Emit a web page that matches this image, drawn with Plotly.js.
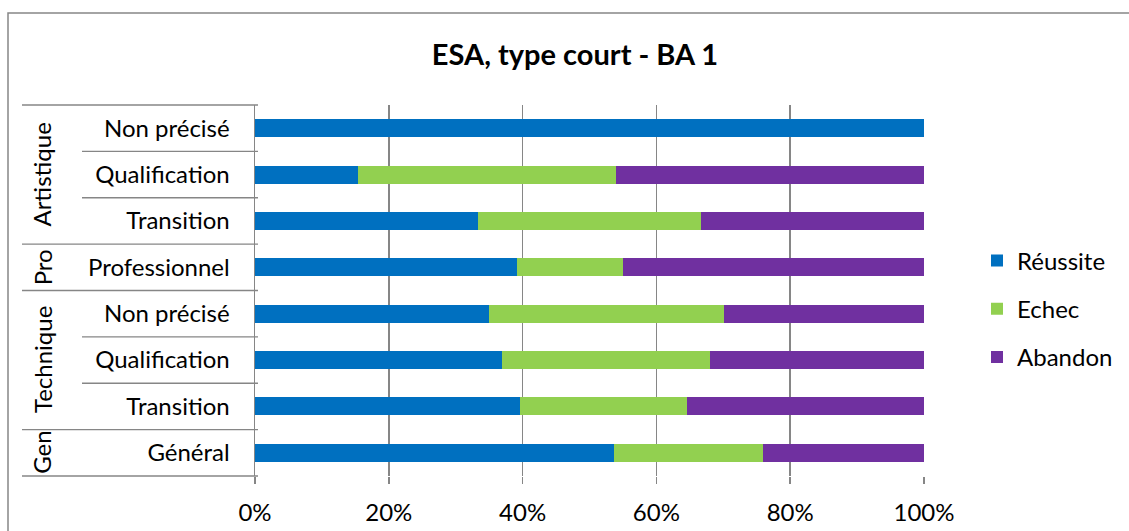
<!DOCTYPE html>
<html>
<head>
<meta charset="utf-8">
<script src="https://cdn.plot.ly/plotly-3.0.1.min.js"></script>
<style>html,body{margin:0;padding:0;background:#fff;}#chart{width:1129px;height:531px;}</style>
</head>
<body>
<div id="chart"></div>
<script>
// Data (bottom to top)
const groups = ['Gen', 'Technique', 'Technique', 'Technique', 'Pro', 'Artistique', 'Artistique', 'Artistique'];
const categories = ['Général', 'Transition', 'Qualification', 'Non précisé', 'Professionnel', 'Transition', 'Qualification', 'Non précisé'];
const reussite = [53.6, 39.6, 36.9, 35.0, 39.1, 33.3, 15.4, 100];
const echec = [22.3, 25.0, 31.1, 35.1, 15.9, 33.4, 38.5, 0];
const abandon = [24.1, 35.4, 32.0, 29.9, 45.0, 33.3, 46.1, 0];
const seriesNames = ['Réussite', 'Echec', 'Abandon'];
const xTicks = [0, 20, 40, 60, 80, 100];

const keys = categories.map((c, i) => groups[i] + ' / ' + c + ' #' + i);
const colors = ['#0070C0', '#92D050', '#7030A0'];
const FONT = 'Lato, "Open Sans", sans-serif';
const GRID = '#868686';

const W = 1129, H = 531;
const M = {l: 255, r: 205, t: 105, b: 55, autoexpand: false};
const PW = W - M.l - M.r, PH = H - M.t - M.b;
const px2x = p => (p - M.l) / PW;
const py2y = p => (H - M.b - p) / PH;

const traces = [reussite, echec, abandon].map((vals, k) => ({
  type: 'bar',
  orientation: 'h',
  name: seriesNames[k],
  y: keys,
  x: vals,
  legendgroup: 'g' + k,
  marker: {color: colors[k], line: {width: 0}},
  hoverinfo: 'name+x'
}));

// separators and group labels
const n = keys.length;
const shapes = [];
const groupLeft = px2x(22), catLeft = px2x(82), lineRight = px2x(258);
for (let i = 0; i <= n; i++) {
  const isGroupBoundary = (i === 0 || i === n || groups[i] !== groups[i - 1]);
  shapes.push({
    type: 'line', xref: 'paper', yref: 'paper',
    x0: isGroupBoundary ? groupLeft : catLeft, x1: lineRight,
    y0: i / n, y1: i / n,
    line: {color: GRID, width: 1.4}
  });
}
// chart area border
shapes.push({
  type: 'rect', xref: 'paper', yref: 'paper',
  x0: px2x(8), x1: px2x(1140), y0: py2y(540), y1: py2y(13),
  line: {color: GRID, width: 1.5}, fillcolor: 'rgba(0,0,0,0)', layer: 'below'
});

const annotations = [];
let start = 0;
for (let i = 1; i <= n; i++) {
  if (i === n || groups[i] !== groups[start]) {
    const mid = (start + i - 1) / 2;
    annotations.push({
      xref: 'paper', yref: 'paper',
      x: px2x(42), y: (mid + 0.5) / n,
      text: groups[start], textangle: -90, showarrow: false,
      xanchor: 'center', yanchor: 'middle',
      font: {family: FONT, size: 24, color: '#000'}
    });
    start = i;
  }
}

const layout = {
  width: W, height: H,
  margin: M,
  paper_bgcolor: '#fff', plot_bgcolor: '#fff',
  barmode: 'stack',
  bargap: 0.61,
  font: {family: FONT, size: 24, color: '#000'},
  title: {
    text: '<b>ESA, type court - BA 1</b>',
    font: {family: FONT, size: 29, color: '#000'},
    xref: 'container', yref: 'container',
    x: 575 / W, y: 1 - 55 / H, xanchor: 'center', yanchor: 'middle'
  },
  xaxis: {
    range: [0, 100], tickvals: xTicks, ticktext: xTicks.map(v => v + '%'),
    showgrid: true, gridcolor: GRID, gridwidth: 1.5,
    zeroline: false, showline: false,
    ticks: 'outside', ticklen: 7, tickcolor: GRID, tickwidth: 1.5,
    tickfont: {family: FONT, size: 24, color: '#000'},
    ticklabelstandoff: 8,
    fixedrange: true
  },
  yaxis: {
    type: 'category', categoryorder: 'array', categoryarray: keys,
    tickmode: 'array', tickvals: keys, ticktext: categories,
    showgrid: false, zeroline: false,
    showline: true, linecolor: GRID, linewidth: 1.5,
    ticks: '', ticklabelstandoff: 19,
    tickfont: {family: FONT, size: 24, color: '#000'},
    fixedrange: true
  },
  legend: {
    x: px2x(977), xanchor: 'left', y: py2y(309), yanchor: 'middle',
    traceorder: 'grouped', tracegroupgap: 14,
    font: {family: FONT, size: 24, color: '#000'},
    bgcolor: 'rgba(0,0,0,0)'
  },
  shapes: shapes,
  annotations: annotations,
  showlegend: true
};

Plotly.newPlot('chart', traces, layout, {displayModeBar: false, staticPlot: true});
</script>
</body>
</html>
